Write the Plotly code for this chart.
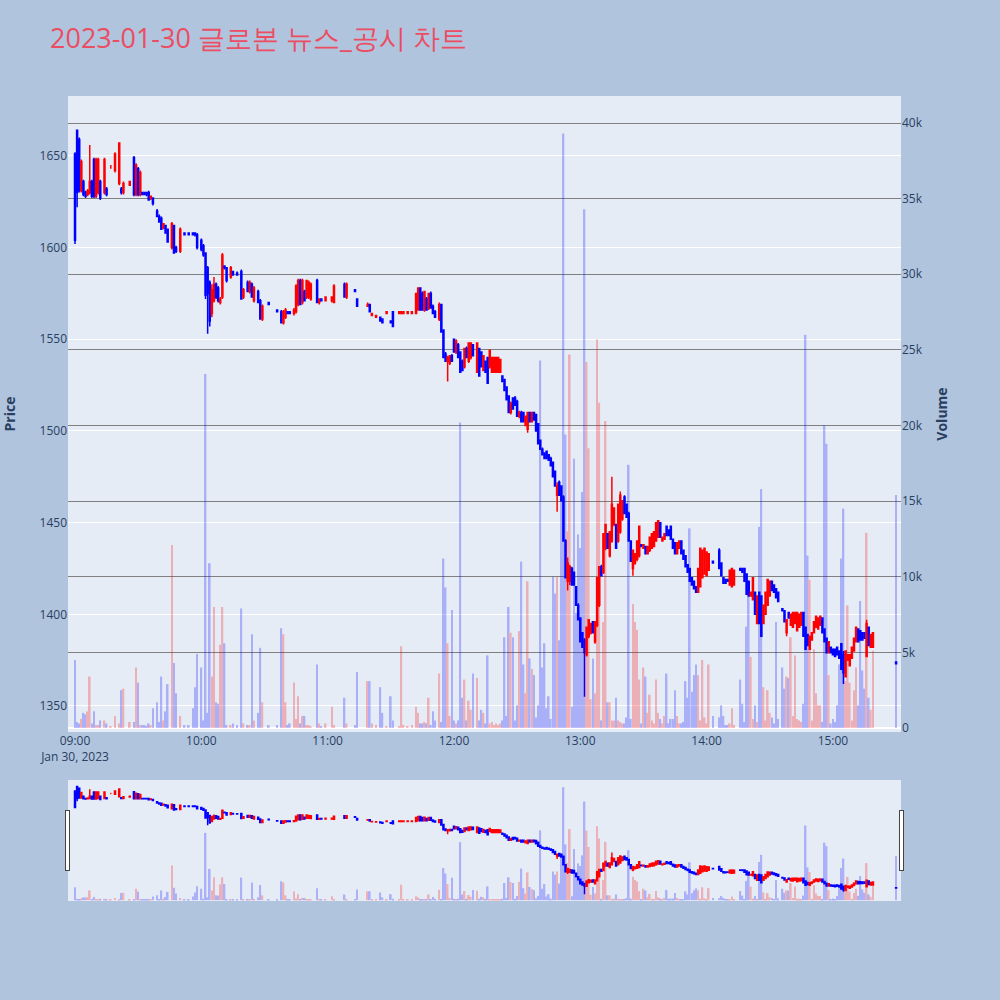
import plotly.graph_objects as go
from plotly.subplots import make_subplots

DATE = "2023-01-30"

times = [
    "09:00", "09:01", "09:02", "09:03", "09:04", "09:05", "09:06", "09:07", "09:08", "09:09",
    "09:10", "09:11", "09:12", "09:14", "09:15", "09:17", "09:19", "09:21", "09:22", "09:23",
    "09:26", "09:28", "09:29", "09:30", "09:31", "09:32", "09:33", "09:34", "09:35", "09:36",
    "09:37", "09:39", "09:40", "09:41", "09:42", "09:43", "09:44", "09:46", "09:47", "09:48",
    "09:50", "09:52", "09:54", "09:56", "09:57", "09:58",
    "10:00", "10:01", "10:02", "10:03", "10:04", "10:05", "10:06", "10:07", "10:08", "10:09",
    "10:10", "10:11", "10:12", "10:14", "10:15", "10:17", "10:19", "10:20", "10:22", "10:23",
    "10:24", "10:25", "10:27", "10:28", "10:29", "10:32", "10:36", "10:38", "10:39", "10:40",
    "10:41", "10:42", "10:44", "10:45", "10:46", "10:47", "10:48", "10:49", "10:50", "10:51",
    "10:52", "10:55", "10:56", "10:57", "10:59",
    "11:02", "11:03", "11:08", "11:09", "11:13", "11:14", "11:19", "11:20", "11:21", "11:23",
    "11:25", "11:26", "11:28", "11:30", "11:31", "11:34", "11:35", "11:36", "11:38", "11:40",
    "11:42", "11:43", "11:44", "11:45", "11:46", "11:47", "11:48", "11:49", "11:50", "11:51",
    "11:53", "11:54", "11:55", "11:56", "11:57", "11:58", "11:59",
    "12:00", "12:01", "12:02", "12:03", "12:04", "12:05", "12:06", "12:07", "12:08", "12:09",
    "12:11", "12:12", "12:13", "12:14", "12:15", "12:16", "12:17", "12:18", "12:19", "12:20",
    "12:21", "12:22", "12:23", "12:24", "12:25", "12:26", "12:27", "12:28", "12:29", "12:30",
    "12:31", "12:32", "12:33", "12:34", "12:35", "12:36", "12:37", "12:38", "12:39", "12:40",
    "12:41", "12:42", "12:43", "12:44", "12:45", "12:46", "12:47", "12:48", "12:49", "12:50",
    "12:51", "12:52", "12:53", "12:54", "12:55", "12:56", "12:57", "12:58", "12:59",
    "13:00", "13:01", "13:02", "13:03", "13:04", "13:05", "13:06", "13:07", "13:08", "13:09",
    "13:10", "13:11", "13:12", "13:13", "13:14", "13:15", "13:16", "13:17", "13:18", "13:19",
    "13:20", "13:21", "13:22", "13:23", "13:24", "13:25", "13:26", "13:27", "13:28", "13:29",
    "13:30", "13:31", "13:32", "13:33", "13:34", "13:35", "13:36", "13:37", "13:38", "13:39",
    "13:40", "13:41", "13:42", "13:43", "13:44", "13:45", "13:46", "13:47", "13:48", "13:49",
    "13:50", "13:51", "13:52", "13:53", "13:54", "13:55", "13:56", "13:57", "13:58", "13:59",
    "14:00", "14:01", "14:03", "14:06", "14:07", "14:08", "14:09", "14:10", "14:11", "14:12",
    "14:13", "14:16", "14:17", "14:18", "14:19", "14:20", "14:21", "14:22", "14:23", "14:24",
    "14:25", "14:26", "14:27", "14:28", "14:29", "14:30", "14:31", "14:32", "14:33", "14:34",
    "14:36", "14:37", "14:38", "14:39", "14:40", "14:41", "14:42", "14:43", "14:44", "14:45",
    "14:46", "14:47", "14:48", "14:49", "14:50", "14:51", "14:52", "14:53", "14:54", "14:55",
    "14:56", "14:57", "14:58", "14:59",
    "15:00", "15:01", "15:02", "15:03", "15:04", "15:05", "15:06", "15:07", "15:08", "15:09",
    "15:10", "15:11", "15:12", "15:13", "15:14", "15:15", "15:16", "15:17", "15:18", "15:19",
    "15:30",
]

opens = [
    1651, 1664, 1659, 1631, 1636, 1630, 1629, 1630, 1636, 1648,
    1628, 1630, 1636, 1630, 1632, 1644, 1642, 1635, 1632, 1630,
    1634, 1649, 1629, 1643, 1629, 1630, 1630, 1630, 1630, 1627,
    1627, 1620, 1617, 1616, 1611, 1612, 1610, 1600, 1612, 1600,
    1598, 1608, 1608, 1608, 1608, 1607,
    1604, 1601, 1597, 1589, 1581, 1564, 1571, 1580, 1578, 1570,
    1573, 1590, 1589, 1584, 1587, 1586, 1587, 1573, 1581, 1576,
    1580, 1571, 1576, 1571, 1561, 1570, 1566, 1565, 1559, 1562,
    1565, 1565, 1564, 1565, 1569, 1582, 1570, 1576, 1573, 1573,
    1572, 1582, 1570, 1572, 1571,
    1571, 1570, 1580, 1573, 1577, 1572, 1568, 1569, 1563, 1562,
    1562, 1561, 1564, 1560, 1565, 1564, 1564, 1564, 1564, 1564,
    1564, 1566, 1578, 1575, 1566, 1572, 1567, 1575, 1568, 1565,
    1561, 1569, 1555, 1542, 1538, 1537, 1541,
    1550, 1543, 1547, 1543, 1538, 1535, 1545, 1538, 1540, 1547,
    1532, 1545, 1543, 1533, 1538, 1540, 1535, 1532, 1532, 1532,
    1532, 1532, 1530, 1528, 1524, 1519, 1510, 1518, 1518, 1516,
    1508, 1510, 1510, 1503, 1501, 1510, 1505, 1510, 1509, 1504,
    1495, 1490, 1488, 1489, 1487, 1485, 1483, 1478, 1465, 1472,
    1470, 1464, 1440, 1418, 1418, 1425, 1423, 1415, 1405,
    1398, 1390, 1386, 1378, 1388, 1390, 1396, 1385, 1394, 1405,
    1426, 1423, 1436, 1444, 1432, 1440, 1449, 1449, 1440, 1445,
    1452, 1464, 1460, 1455, 1440, 1425, 1428, 1430, 1432, 1438,
    1436, 1437, 1433, 1435, 1436, 1437, 1440, 1442, 1450, 1440,
    1441, 1448, 1446, 1448, 1441, 1439, 1433, 1436, 1440, 1435,
    1432, 1427, 1425, 1420, 1418, 1415, 1412, 1415, 1420, 1422,
    1421, 1424, 1429, 1435, 1428, 1420, 1419, 1419, 1416, 1415,
    1416, 1425, 1425, 1425, 1422, 1418, 1410, 1408, 1412, 1395,
    1412, 1410, 1395, 1400, 1405, 1410, 1418, 1416, 1414, 1412,
    1403, 1402, 1390, 1401, 1394, 1393, 1395, 1391, 1393, 1394,
    1401, 1393, 1389, 1381, 1386, 1390, 1393, 1392, 1394, 1398,
    1392, 1387, 1379, 1382,
    1381, 1381, 1382, 1380, 1384, 1378, 1366, 1375, 1372, 1376,
    1380, 1385, 1392, 1391, 1390, 1390, 1377, 1393, 1382, 1382,
    1374,
]

highs = [
    1652, 1664, 1660, 1648, 1637, 1631, 1632, 1656, 1637, 1649,
    1649, 1649, 1637, 1649, 1633, 1645, 1652, 1657, 1633, 1636,
    1636, 1650, 1646, 1644, 1642, 1630, 1630, 1630, 1631, 1628,
    1627, 1621, 1618, 1617, 1613, 1612, 1610, 1614, 1612, 1601,
    1611, 1608, 1608, 1608, 1608, 1608,
    1605, 1602, 1597, 1590, 1582, 1580, 1584, 1581, 1579, 1573,
    1597, 1590, 1589, 1590, 1587, 1587, 1588, 1578, 1582, 1582,
    1581, 1579, 1577, 1572, 1569, 1570, 1566, 1566, 1566, 1567,
    1565, 1565, 1567, 1580, 1583, 1583, 1583, 1577, 1582, 1582,
    1581, 1583, 1572, 1572, 1573,
    1573, 1580, 1581, 1581, 1577, 1572, 1570, 1569, 1564, 1563,
    1562, 1561, 1565, 1560, 1565, 1565, 1565, 1565, 1565, 1565,
    1575, 1578, 1578, 1576, 1576, 1573, 1575, 1576, 1569, 1566,
    1570, 1569, 1555, 1543, 1541, 1541, 1542,
    1550, 1550, 1548, 1543, 1539, 1545, 1546, 1548, 1548, 1547,
    1548, 1545, 1543, 1541, 1538, 1540, 1544, 1540, 1540, 1540,
    1540, 1539, 1530, 1528, 1524, 1519, 1516, 1518, 1519, 1517,
    1511, 1511, 1510, 1508, 1510, 1510, 1510, 1510, 1509, 1504,
    1495, 1491, 1488, 1489, 1487, 1486, 1483, 1478, 1472, 1473,
    1470, 1465, 1441, 1431, 1427, 1426, 1423, 1415, 1406,
    1398, 1390, 1387, 1393, 1397, 1395, 1396, 1396, 1420, 1426,
    1427, 1444, 1449, 1444, 1445, 1475, 1458, 1449, 1460, 1467,
    1462, 1465, 1460, 1456, 1440, 1435, 1433, 1440, 1448, 1438,
    1438, 1437, 1437, 1442, 1444, 1445, 1450, 1451, 1450, 1442,
    1444, 1448, 1446, 1448, 1441, 1439, 1439, 1440, 1440, 1435,
    1432, 1427, 1425, 1420, 1418, 1415, 1425, 1436, 1435, 1436,
    1434, 1433, 1429, 1436, 1428, 1420, 1419, 1419, 1424, 1425,
    1424, 1425, 1425, 1425, 1422, 1418, 1412, 1420, 1412, 1410,
    1412, 1410, 1405, 1412, 1419, 1418, 1418, 1416, 1414, 1412,
    1403, 1402, 1397, 1401, 1400, 1401, 1401, 1401, 1400, 1401,
    1401, 1393, 1389, 1388, 1390, 1396, 1399, 1398, 1399, 1398,
    1392, 1387, 1385, 1382,
    1381, 1381, 1382, 1380, 1384, 1380, 1380, 1378, 1378, 1382,
    1387, 1393, 1392, 1391, 1390, 1390, 1397, 1393, 1389, 1390,
    1374,
]

lows = [
    1602, 1622, 1630, 1630, 1628, 1627, 1628, 1629, 1627, 1627,
    1627, 1629, 1626, 1629, 1628, 1643, 1641, 1634, 1629, 1629,
    1634, 1628, 1628, 1628, 1628, 1629, 1629, 1628, 1626, 1626,
    1623, 1617, 1614, 1610, 1610, 1608, 1603, 1599, 1597, 1597,
    1597, 1607, 1607, 1607, 1606, 1599,
    1598, 1595, 1572, 1553, 1557, 1562, 1570, 1572, 1570, 1569,
    1572, 1588, 1581, 1583, 1585, 1585, 1572, 1572, 1576, 1575,
    1573, 1570, 1570, 1561, 1560, 1569, 1565, 1559, 1558, 1561,
    1564, 1564, 1563, 1564, 1568, 1569, 1569, 1571, 1572, 1572,
    1571, 1570, 1569, 1571, 1571,
    1570, 1570, 1573, 1572, 1576, 1568, 1568, 1565, 1563, 1562,
    1560, 1559, 1564, 1559, 1557, 1564, 1564, 1564, 1564, 1564,
    1564, 1566, 1566, 1566, 1565, 1566, 1566, 1567, 1564, 1562,
    1560, 1554, 1540, 1538, 1527, 1536, 1538,
    1543, 1542, 1540, 1532, 1533, 1534, 1540, 1537, 1539, 1541,
    1532, 1530, 1535, 1533, 1532, 1526, 1534, 1532, 1532, 1532,
    1532, 1532, 1527, 1522, 1517, 1510, 1509, 1512, 1514, 1508,
    1507, 1505, 1505, 1503, 1499, 1505, 1505, 1506, 1500, 1493,
    1490, 1487, 1485, 1485, 1484, 1481, 1475, 1470, 1456, 1465,
    1462, 1440, 1420, 1413, 1416, 1416, 1416, 1405, 1397,
    1385, 1382, 1355, 1377, 1387, 1389, 1390, 1384, 1393, 1404,
    1421, 1422, 1435, 1436, 1431, 1439, 1448, 1436, 1439, 1444,
    1451, 1455, 1453, 1440, 1429, 1421, 1427, 1429, 1431, 1437,
    1436, 1433, 1433, 1434, 1436, 1437, 1440, 1442, 1442, 1440,
    1441, 1443, 1443, 1441, 1436, 1433, 1433, 1436, 1433, 1430,
    1426, 1423, 1418, 1416, 1414, 1412, 1412, 1415, 1420, 1422,
    1421, 1424, 1428, 1425, 1421, 1417, 1417, 1418, 1416, 1415,
    1416, 1424, 1423, 1418, 1411, 1410, 1410, 1408, 1400, 1395,
    1395, 1388, 1395, 1400, 1405, 1410, 1413, 1412, 1409, 1407,
    1402, 1396, 1388, 1398, 1394, 1393, 1395, 1391, 1393, 1394,
    1388, 1381, 1383, 1381, 1386, 1390, 1393, 1392, 1394, 1390,
    1385, 1379, 1379, 1379,
    1378, 1377, 1378, 1376, 1370, 1362, 1366, 1375, 1372, 1376,
    1380, 1385, 1385, 1386, 1386, 1387, 1377, 1383, 1382, 1382,
    1373,
]

closes = [
    1604, 1630, 1631, 1647, 1629, 1628, 1631, 1636, 1628, 1628,
    1648, 1648, 1627, 1648, 1629, 1644, 1651, 1657, 1630, 1635,
    1636, 1629, 1645, 1629, 1641, 1629, 1629, 1629, 1626, 1628,
    1624, 1617, 1614, 1610, 1613, 1608, 1603, 1613, 1597, 1598,
    1610, 1607, 1607, 1607, 1607, 1600,
    1599, 1596, 1574, 1575, 1560, 1577, 1580, 1573, 1571, 1572,
    1596, 1589, 1582, 1589, 1585, 1585, 1572, 1577, 1576, 1581,
    1573, 1578, 1570, 1561, 1568, 1569, 1565, 1559, 1565, 1566,
    1564, 1564, 1566, 1579, 1582, 1569, 1582, 1571, 1582, 1581,
    1580, 1570, 1572, 1571, 1573,
    1573, 1579, 1573, 1580, 1576, 1568, 1569, 1565, 1564, 1563,
    1560, 1559, 1565, 1559, 1557, 1565, 1565, 1565, 1565, 1565,
    1575, 1578, 1566, 1566, 1576, 1566, 1575, 1567, 1564, 1562,
    1569, 1554, 1540, 1538, 1540, 1541, 1538,
    1543, 1549, 1540, 1532, 1533, 1545, 1540, 1548, 1548, 1541,
    1548, 1530, 1535, 1541, 1532, 1526, 1544, 1540, 1540, 1540,
    1540, 1539, 1527, 1522, 1517, 1510, 1515, 1512, 1514, 1508,
    1510, 1505, 1505, 1508, 1510, 1505, 1510, 1506, 1500, 1493,
    1490, 1487, 1485, 1485, 1484, 1481, 1475, 1470, 1470, 1465,
    1462, 1440, 1420, 1428, 1426, 1416, 1416, 1405, 1397,
    1385, 1382, 1379, 1393, 1397, 1395, 1390, 1396, 1420, 1426,
    1421, 1444, 1449, 1436, 1445, 1460, 1458, 1436, 1460, 1465,
    1462, 1455, 1453, 1440, 1429, 1435, 1433, 1440, 1448, 1437,
    1438, 1433, 1437, 1442, 1444, 1445, 1450, 1451, 1442, 1442,
    1444, 1443, 1443, 1441, 1436, 1433, 1439, 1440, 1433, 1430,
    1426, 1423, 1418, 1416, 1414, 1412, 1425, 1436, 1435, 1436,
    1434, 1433, 1428, 1425, 1421, 1417, 1417, 1418, 1424, 1425,
    1424, 1424, 1423, 1418, 1411, 1410, 1412, 1420, 1400, 1410,
    1395, 1388, 1405, 1412, 1419, 1418, 1413, 1412, 1409, 1407,
    1402, 1396, 1397, 1398, 1400, 1401, 1401, 1401, 1400, 1401,
    1388, 1381, 1383, 1388, 1390, 1396, 1399, 1398, 1399, 1390,
    1385, 1379, 1385, 1379,
    1378, 1377, 1378, 1376, 1370, 1368, 1380, 1378, 1378, 1382,
    1387, 1393, 1385, 1386, 1386, 1387, 1395, 1383, 1389, 1390,
    1373,
]

volumes = [
    4500, 400, 300, 600, 1000, 900, 1100, 3400, 300, 1100,
    200, 200, 500, 500, 300, 100, 800, 300, 2500, 2600,
    400, 400, 4000, 3000, 200, 200, 200, 100, 300, 200,
    1300, 1700, 400, 3400, 500, 1100, 2900, 12100, 4300, 2300,
    800, 200, 200, 1300, 2700, 4900,
    4000, 500, 23400, 1000, 10900, 3400, 8000, 1700, 1600, 5500,
    8000, 5600, 200, 200, 300, 200, 7900, 300, 200, 200,
    6200, 500, 1000, 5300, 1700, 200, 200, 6600, 6200, 1700,
    200, 300, 3000, 600, 2100, 300, 800, 800, 200, 200,
    100, 4200, 300, 100, 300,
    1400, 200, 2000, 300, 200, 3700, 3100, 3100, 300, 200,
    2700, 1000, 100, 2100, 500, 100, 5400, 200, 100, 200,
    1400, 1000, 300, 300, 400, 300, 2000, 200, 1100, 500,
    3600, 400, 11200, 9300, 5600, 800, 7800,
    500, 300, 500, 20200, 2000, 3200, 500, 1800, 1200, 3600,
    3300, 500, 1200, 1000, 300, 4800, 300, 400, 200, 300,
    200, 300, 500, 6000, 800, 8000, 6300, 6000, 500, 1500,
    6400, 11000, 4200, 2300, 9700, 4600, 3900, 3500, 700, 1500,
    24300, 4000, 5600, 1300, 2100, 600, 10000, 8900, 10000, 5800,
    15500, 39300, 19400, 13000, 24700, 1400, 17800, 7600, 12800,
    11900, 15600, 34300, 24200, 18500, 1900, 4600, 2300, 25700, 21500,
    500, 7000, 20300, 1700, 1700, 500, 500, 2000, 500, 400,
    300, 300, 700, 17400, 600, 8200, 7000, 6500, 3200, 300,
    4000, 3400, 1000, 2200, 500, 300, 3200, 1000, 600, 300,
    800, 3600, 300, 600, 600, 2500, 800, 300, 300, 400,
    3100, 2000, 13200, 2400, 3500, 4200, 3500, 500, 4500, 700,
    300, 4200, 800, 700, 1500, 800, 200, 200, 300, 1300,
    200, 3200, 1600, 400, 6700, 8700, 4700, 600, 1500, 400,
    13300, 15800, 2700, 500, 2500, 1000, 700, 300, 7000, 600,
    4000, 2600, 3400, 3300, 6000, 800, 4800, 600, 500, 400,
    1600, 26000, 11400, 9800, 500, 5200, 2300, 1500, 1500, 400,
    20000, 18800, 3500, 300,
    600, 400, 1500, 4200, 11200, 14500, 3100, 8100, 3000, 500,
    2500, 4000, 1500, 8400, 3800, 2600, 12900, 2000, 1200, 5100,
    15400,
]

assert len(times) == len(opens) == len(highs) == len(lows) == len(closes) == len(volumes)

x = [f"{DATE} {t}:00" for t in times]
vol_colors = ["red" if c >= o else "blue" for o, c in zip(opens, closes)]

fig = make_subplots(specs=[[{"secondary_y": True}]])

fig.add_trace(
    go.Candlestick(
        x=x, open=opens, high=highs, low=lows, close=closes,
        increasing=dict(line=dict(color="red", width=1.5), fillcolor="red"),
        decreasing=dict(line=dict(color="blue", width=1.5), fillcolor="blue"),
        name="Price", showlegend=False,
    ),
    secondary_y=False,
)
fig.add_trace(
    go.Bar(x=x, y=volumes, marker=dict(color=vol_colors, line=dict(width=0)),
           opacity=0.25, name="Volume", showlegend=False),
    secondary_y=True,
)

x_range = [f"{DATE} 08:56:40", f"{DATE} 15:32:20"]

fig.update_layout(
    width=1000, height=1000,
    title=dict(text="2023-01-30 글로본 뉴스_공시 차트",
               font=dict(size=27, color="#EB4D62")),
    paper_bgcolor="lightsteelblue",
    plot_bgcolor="#E5ECF6",
    margin=dict(l=68, r=99, t=96, b=100),
    showlegend=False,
    xaxis=dict(range=x_range, domain=[0, 1],
               rangeslider=dict(visible=True, bgcolor="#E5ECF6", range=x_range)),
)
fig.update_yaxes(title_text="<b>Price</b>", title_standoff=22, range=[1335.8, 1682.7],
                 automargin=False, secondary_y=False)
fig.update_yaxes(title_text="<b>Volume</b>", range=[-265, 41785], gridcolor="gray",
                 automargin=False, secondary_y=True)

fig.write_html("out.html", config={"displayModeBar": False},
               post_script="document.body.style.margin='0';document.body.style.overflow='hidden';")
